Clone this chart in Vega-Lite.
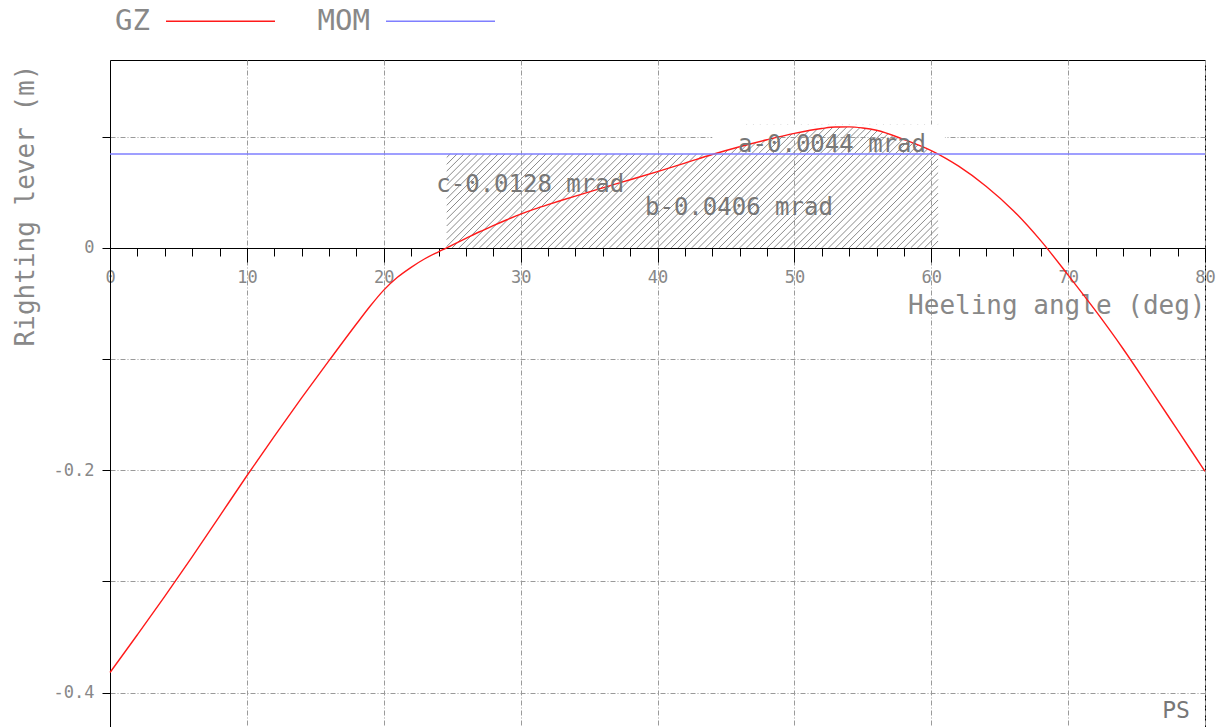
{
  "$schema": "https://vega.github.io/schema/vega-lite/v6.json",
  "width": 1095,
  "height": 667,
  "autosize": {"type": "none"},
  "padding": {"left": 110, "top": 60, "right": 18, "bottom": 0},
  "background": "white",
  "config": {
    "font": "DejaVu Sans Mono",
    "view": {"stroke": "#000", "strokeWidth": 1},
    "legend": {
      "orient": "none",
      "legendX": 55,
      "legendY": -94.5,
      "direction": "horizontal",
      "symbolType": "stroke",
      "symbolSize": 11881,
      "symbolStrokeWidth": 1.5,
      "labelFont": "DejaVu Sans Mono",
      "labelFontSize": 29,
      "labelColor": "#888",
      "labelAlign": "right",
      "labelOffset": -126,
      "columnPadding": 39,
      "labelLimit": 0
    }
  },
  "datasets": {
    "curves": [
      {"deg": 0, "val": -0.382, "series": "GZ"},
      {"deg": 2, "val": -0.348, "series": "GZ"},
      {"deg": 4, "val": -0.3135, "series": "GZ"},
      {"deg": 6, "val": -0.278, "series": "GZ"},
      {"deg": 8, "val": -0.2415, "series": "GZ"},
      {"deg": 10, "val": -0.205, "series": "GZ"},
      {"deg": 12, "val": -0.1695, "series": "GZ"},
      {"deg": 14, "val": -0.135, "series": "GZ"},
      {"deg": 16, "val": -0.1015, "series": "GZ"},
      {"deg": 18, "val": -0.0685, "series": "GZ"},
      {"deg": 19, "val": -0.0525, "series": "GZ"},
      {"deg": 20, "val": -0.038, "series": "GZ"},
      {"deg": 21, "val": -0.0265, "series": "GZ"},
      {"deg": 22, "val": -0.0175, "series": "GZ"},
      {"deg": 23, "val": -0.0098, "series": "GZ"},
      {"deg": 24, "val": -0.0035, "series": "GZ"},
      {"deg": 25, "val": 0.0025, "series": "GZ"},
      {"deg": 26, "val": 0.0085, "series": "GZ"},
      {"deg": 27, "val": 0.0145, "series": "GZ"},
      {"deg": 28, "val": 0.02, "series": "GZ"},
      {"deg": 29, "val": 0.0253, "series": "GZ"},
      {"deg": 30, "val": 0.0303, "series": "GZ"},
      {"deg": 31, "val": 0.0348, "series": "GZ"},
      {"deg": 32, "val": 0.0389, "series": "GZ"},
      {"deg": 33, "val": 0.0428, "series": "GZ"},
      {"deg": 34, "val": 0.0466, "series": "GZ"},
      {"deg": 36, "val": 0.054, "series": "GZ"},
      {"deg": 38, "val": 0.0613, "series": "GZ"},
      {"deg": 40, "val": 0.0686, "series": "GZ"},
      {"deg": 42, "val": 0.0762, "series": "GZ"},
      {"deg": 44, "val": 0.084, "series": "GZ"},
      {"deg": 46, "val": 0.091, "series": "GZ"},
      {"deg": 48, "val": 0.0973, "series": "GZ"},
      {"deg": 50, "val": 0.103, "series": "GZ"},
      {"deg": 52, "val": 0.1074, "series": "GZ"},
      {"deg": 53, "val": 0.1087, "series": "GZ"},
      {"deg": 54, "val": 0.1088, "series": "GZ"},
      {"deg": 55, "val": 0.1078, "series": "GZ"},
      {"deg": 56, "val": 0.1058, "series": "GZ"},
      {"deg": 58, "val": 0.0975, "series": "GZ"},
      {"deg": 60, "val": 0.0875, "series": "GZ"},
      {"deg": 61, "val": 0.081, "series": "GZ"},
      {"deg": 62, "val": 0.0735, "series": "GZ"},
      {"deg": 64, "val": 0.0555, "series": "GZ"},
      {"deg": 66, "val": 0.0335, "series": "GZ"},
      {"deg": 68, "val": 0.0065, "series": "GZ"},
      {"deg": 70, "val": -0.0245, "series": "GZ"},
      {"deg": 72, "val": -0.0565, "series": "GZ"},
      {"deg": 74, "val": -0.0905, "series": "GZ"},
      {"deg": 76, "val": -0.127, "series": "GZ"},
      {"deg": 78, "val": -0.164, "series": "GZ"},
      {"deg": 80, "val": -0.201, "series": "GZ"},
      {"deg": 0, "val": 0.0845, "series": "MOM"},
      {"deg": 80, "val": 0.0845, "series": "MOM"}
    ],
    "hatch": [
      {"x": 24.6, "y": 0.0813, "x2": 24.861, "y2": 0.0845},
      {"x": 24.6, "y": 0.0751, "x2": 25.361, "y2": 0.0845},
      {"x": 24.6, "y": 0.069, "x2": 25.861, "y2": 0.0845},
      {"x": 24.6, "y": 0.0628, "x2": 26.361, "y2": 0.0845},
      {"x": 24.6, "y": 0.0567, "x2": 26.861, "y2": 0.0845},
      {"x": 24.6, "y": 0.0505, "x2": 27.361, "y2": 0.0845},
      {"x": 24.6, "y": 0.0443, "x2": 27.861, "y2": 0.0845},
      {"x": 24.6, "y": 0.0382, "x2": 28.361, "y2": 0.0845},
      {"x": 24.6, "y": 0.032, "x2": 28.861, "y2": 0.0845},
      {"x": 24.6, "y": 0.0259, "x2": 29.361, "y2": 0.0845},
      {"x": 24.6, "y": 0.0197, "x2": 29.861, "y2": 0.0845},
      {"x": 24.6, "y": 0.0135, "x2": 30.361, "y2": 0.0845},
      {"x": 24.6, "y": 0.0074, "x2": 30.861, "y2": 0.0845},
      {"x": 24.6, "y": 0.0012, "x2": 31.361, "y2": 0.0845},
      {"x": 25.0, "y": 0, "x2": 31.861, "y2": 0.0845},
      {"x": 25.5, "y": 0, "x2": 32.361, "y2": 0.0845},
      {"x": 26.0, "y": 0, "x2": 32.861, "y2": 0.0845},
      {"x": 26.5, "y": 0, "x2": 33.361, "y2": 0.0845},
      {"x": 27.0, "y": 0, "x2": 33.861, "y2": 0.0845},
      {"x": 27.5, "y": 0, "x2": 34.361, "y2": 0.0845},
      {"x": 28.0, "y": 0, "x2": 34.861, "y2": 0.0845},
      {"x": 28.5, "y": 0, "x2": 35.361, "y2": 0.0845},
      {"x": 29.0, "y": 0, "x2": 35.861, "y2": 0.0845},
      {"x": 29.5, "y": 0, "x2": 36.361, "y2": 0.0845},
      {"x": 30.0, "y": 0, "x2": 36.861, "y2": 0.0845},
      {"x": 30.5, "y": 0, "x2": 37.361, "y2": 0.0845},
      {"x": 31.0, "y": 0, "x2": 37.861, "y2": 0.0845},
      {"x": 31.5, "y": 0, "x2": 38.361, "y2": 0.0845},
      {"x": 32.0, "y": 0, "x2": 38.861, "y2": 0.0845},
      {"x": 32.5, "y": 0, "x2": 39.361, "y2": 0.0845},
      {"x": 33.0, "y": 0, "x2": 39.861, "y2": 0.0845},
      {"x": 33.5, "y": 0, "x2": 40.361, "y2": 0.0845},
      {"x": 34.0, "y": 0, "x2": 40.861, "y2": 0.0845},
      {"x": 34.5, "y": 0, "x2": 41.361, "y2": 0.0845},
      {"x": 35.0, "y": 0, "x2": 41.861, "y2": 0.0845},
      {"x": 35.5, "y": 0, "x2": 42.361, "y2": 0.0845},
      {"x": 36.0, "y": 0, "x2": 42.861, "y2": 0.0845},
      {"x": 36.5, "y": 0, "x2": 43.361, "y2": 0.0845},
      {"x": 37.0, "y": 0, "x2": 43.861, "y2": 0.0845},
      {"x": 37.5, "y": 0, "x2": 46.513, "y2": 0.111},
      {"x": 38.0, "y": 0, "x2": 47.013, "y2": 0.111},
      {"x": 38.5, "y": 0, "x2": 47.513, "y2": 0.111},
      {"x": 39.0, "y": 0, "x2": 48.013, "y2": 0.111},
      {"x": 39.5, "y": 0, "x2": 48.513, "y2": 0.111},
      {"x": 40.0, "y": 0, "x2": 49.013, "y2": 0.111},
      {"x": 40.5, "y": 0, "x2": 49.513, "y2": 0.111},
      {"x": 41.0, "y": 0, "x2": 50.013, "y2": 0.111},
      {"x": 41.5, "y": 0, "x2": 50.513, "y2": 0.111},
      {"x": 42.0, "y": 0, "x2": 51.013, "y2": 0.111},
      {"x": 42.5, "y": 0, "x2": 51.513, "y2": 0.111},
      {"x": 43.0, "y": 0, "x2": 52.013, "y2": 0.111},
      {"x": 43.5, "y": 0, "x2": 52.513, "y2": 0.111},
      {"x": 44.0, "y": 0, "x2": 53.013, "y2": 0.111},
      {"x": 44.5, "y": 0, "x2": 53.513, "y2": 0.111},
      {"x": 45.0, "y": 0, "x2": 54.013, "y2": 0.111},
      {"x": 45.5, "y": 0, "x2": 54.513, "y2": 0.111},
      {"x": 46.0, "y": 0, "x2": 55.013, "y2": 0.111},
      {"x": 46.5, "y": 0, "x2": 55.513, "y2": 0.111},
      {"x": 47.0, "y": 0, "x2": 56.013, "y2": 0.111},
      {"x": 47.5, "y": 0, "x2": 56.513, "y2": 0.111},
      {"x": 48.0, "y": 0, "x2": 57.013, "y2": 0.111},
      {"x": 48.5, "y": 0, "x2": 57.513, "y2": 0.111},
      {"x": 49.0, "y": 0, "x2": 58.013, "y2": 0.111},
      {"x": 49.5, "y": 0, "x2": 58.513, "y2": 0.111},
      {"x": 50.0, "y": 0, "x2": 59.013, "y2": 0.111},
      {"x": 50.5, "y": 0, "x2": 59.513, "y2": 0.111},
      {"x": 51.0, "y": 0, "x2": 60.013, "y2": 0.111},
      {"x": 51.5, "y": 0, "x2": 60.5, "y2": 0.1108},
      {"x": 52.0, "y": 0, "x2": 60.5, "y2": 0.1047},
      {"x": 52.5, "y": 0, "x2": 60.5, "y2": 0.0985},
      {"x": 53.0, "y": 0, "x2": 60.5, "y2": 0.0924},
      {"x": 53.5, "y": 0, "x2": 60.5, "y2": 0.0862},
      {"x": 54.0, "y": 0, "x2": 60.5, "y2": 0.08},
      {"x": 54.5, "y": 0, "x2": 60.5, "y2": 0.0739},
      {"x": 55.0, "y": 0, "x2": 60.5, "y2": 0.0677},
      {"x": 55.5, "y": 0, "x2": 60.5, "y2": 0.0616},
      {"x": 56.0, "y": 0, "x2": 60.5, "y2": 0.0554},
      {"x": 56.5, "y": 0, "x2": 60.5, "y2": 0.0493},
      {"x": 57.0, "y": 0, "x2": 60.5, "y2": 0.0431},
      {"x": 57.5, "y": 0, "x2": 60.5, "y2": 0.0369},
      {"x": 58.0, "y": 0, "x2": 60.5, "y2": 0.0308},
      {"x": 58.5, "y": 0, "x2": 60.5, "y2": 0.0246},
      {"x": 59.0, "y": 0, "x2": 60.5, "y2": 0.0185},
      {"x": 59.5, "y": 0, "x2": 60.5, "y2": 0.0123},
      {"x": 60.0, "y": 0, "x2": 60.5, "y2": 0.0062}
    ],
    "notes": [
      {"deg": 52.75, "val": 0.0866, "label": "a-0.0044 mrad"},
      {"deg": 30.7, "val": 0.0507, "label": "c-0.0128 mrad"},
      {"deg": 45.95, "val": 0.0297, "label": "b-0.0406 mrad"}
    ],
    "corner": [
      {"deg": 78.9, "val": -0.4228, "label": "PS"}
    ]
  },
  "layer": [
    {
      "data": {"name": "hatch"},
      "mark": {"type": "rule", "color": "#8a8a8a", "strokeWidth": 1},
      "encoding": {
        "x": {
          "field": "x", "type": "quantitative",
          "scale": {"domain": [0, 80], "nice": false, "zero": false},
          "axis": {
            "orient": "bottom",
            "offset": -479,
            "values": [0,2,4,6,8,10,12,14,16,18,20,22,24,26,28,30,32,34,36,38,40,42,44,46,48,50,52,54,56,58,60,62,64,66,68,70,72,74,76,78,80],
            "tickCount": 200,
            "grid": true,
            "gridColor": "#9a9a9a",
            "gridDash": [5, 2, 1, 2],
            "gridWidth": 1,
            "gridOpacity": {"condition": {"test": "datum.value % 10 === 0", "value": 1}, "value": 0},
            "tickSize": {"condition": {"test": "datum.value % 10 === 0", "value": 14}, "value": 8},
            "tickColor": "#000",
            "tickWidth": 1,
            "domainColor": "#000",
            "domainWidth": 1,
            "labelExpr": "datum.value % 10 === 0 ? format(datum.value, 'd') : ''",
            "labelFontSize": 17,
            "labelColor": "#888",
            "labelPadding": 7,
            "labelFlush": false,
            "labelOverlap": false,
            "title": "Heeling angle (deg)",
            "titleX": 1095,
            "titleY": 65,
            "titleAlign": "right",
            "titleBaseline": "alphabetic",
            "titleFontSize": 26,
            "titleFontWeight": "normal",
            "titleColor": "#888"
          }
        },
        "y": {
          "field": "y", "type": "quantitative",
          "scale": {"domain": [-0.431, 0.169], "nice": false, "zero": false},
          "axis": {
            "values": [-0.4, -0.3, -0.2, -0.1, 0, 0.1],
            "tickCount": 50,
            "grid": true,
            "gridColor": "#9a9a9a",
            "gridDash": [5, 2, 1, 2],
            "gridWidth": 1,
            "tickSize": 8,
            "tickColor": "#000",
            "domainColor": "#000",
            "labelExpr": "datum.value === 0 ? '0' : datum.value === -0.2 ? '-0.2' : datum.value === -0.4 ? '-0.4' : ''",
            "labelFontSize": 17,
            "labelColor": "#888",
            "labelPadding": 8,
            "labelFlush": false,
            "labelOverlap": false,
            "title": "Righting lever (m)",
            "titleX": -77,
            "titleY": 145,
            "titleAngle": -90,
            "titleAlign": "center",
            "titleBaseline": "alphabetic",
            "titleFontSize": 26,
            "titleFontWeight": "normal",
            "titleColor": "#888"
          }
        },
        "x2": {"field": "x2"},
        "y2": {"field": "y2"}
      }
    },
    {
      "data": {"name": "curves"},
      "transform": [{"filter": "datum.series === 'GZ' && datum.deg >= 44 && datum.deg <= 61"}],
      "mark": {"type": "area", "color": "white", "interpolate": "monotone"},
      "encoding": {
        "x": {"field": "deg", "type": "quantitative"},
        "y": {"field": "val", "type": "quantitative"},
        "y2": {"datum": 0.111}
      }
    },
    {
      "data": {"name": "curves"},
      "mark": {"type": "line", "strokeWidth": 1.4, "interpolate": "monotone"},
      "encoding": {
        "x": {"field": "deg", "type": "quantitative"},
        "y": {"field": "val", "type": "quantitative"},
        "color": {
          "field": "series", "type": "nominal",
          "scale": {"domain": ["GZ", "MOM"], "range": ["#ff1a1a", "#7f7fff"]},
          "legend": {"title": null}
        }
      }
    },
    {
      "data": {"name": "notes"},
      "mark": {"type": "text", "font": "DejaVu Sans Mono", "fontSize": 24, "color": "#777", "align": "center", "baseline": "alphabetic"},
      "encoding": {
        "x": {"field": "deg", "type": "quantitative"},
        "y": {"field": "val", "type": "quantitative"},
        "text": {"field": "label"}
      }
    },
    {
      "data": {"name": "corner"},
      "mark": {"type": "text", "font": "DejaVu Sans Mono", "fontSize": 23, "color": "#777", "align": "right", "baseline": "alphabetic"},
      "encoding": {
        "x": {"field": "deg", "type": "quantitative"},
        "y": {"field": "val", "type": "quantitative"},
        "text": {"field": "label"}
      }
    }
  ]
}
